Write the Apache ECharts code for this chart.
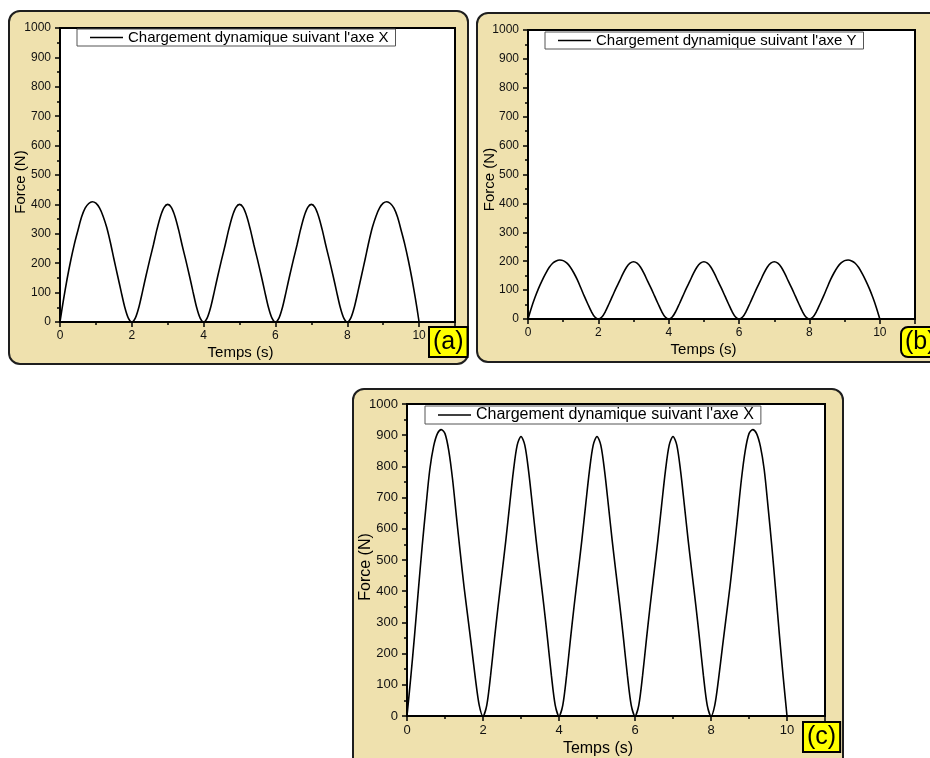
<!DOCTYPE html>
<html lang="fr">
<head>
    <meta charset="UTF-8">
    <script src="https://cdn.jsdelivr.net/npm/echarts@6/dist/echarts.min.js"></script>
    <title>Chargement dynamique</title>
    <style>
        body { margin: 0; width: 930px; height: 758px; overflow: hidden; background: #fff; position: relative; }
        .cadre { position: absolute; background: #efe1ae; border: 2px solid #1e1e1e; border-radius: 12px; box-sizing: border-box; }
        #main { position: absolute; left: 0; top: 0; width: 930px; height: 758px; }
    </style>
</head>
<body>
<!-- les trois cadres beiges -->
<div class="cadre" style="left:8px;top:10px;width:461px;height:355px;"></div>
<div class="cadre" style="left:476px;top:12px;width:474px;height:351px;"></div>
<div class="cadre" style="left:352px;top:388px;width:492px;height:390px;"></div>
<div id="main"></div>
<script type="text/javascript">

    // temps (s)
    var temps = [0, 0.1, 0.2, 0.3, 0.4, 0.5, 0.6, 0.7, 0.8, 0.9,
        1, 1.1, 1.2, 1.3, 1.4, 1.5, 1.6, 1.7, 1.8, 1.9,
        2, 2.1, 2.2, 2.3, 2.4, 2.5, 2.6, 2.7, 2.8, 2.9,
        3, 3.1, 3.2, 3.3, 3.4, 3.5, 3.6, 3.7, 3.8, 3.9,
        4, 4.1, 4.2, 4.3, 4.4, 4.5, 4.6, 4.7, 4.8, 4.9,
        5, 5.1, 5.2, 5.3, 5.4, 5.5, 5.6, 5.7, 5.8, 5.9,
        6, 6.1, 6.2, 6.3, 6.4, 6.5, 6.6, 6.7, 6.8, 6.9,
        7, 7.1, 7.2, 7.3, 7.4, 7.5, 7.6, 7.7, 7.8, 7.9,
        8, 8.1, 8.2, 8.3, 8.4, 8.5, 8.6, 8.7, 8.8, 8.9,
        9, 9.1, 9.2, 9.3, 9.4, 9.5, 9.6, 9.7, 9.8, 9.9, 10];

    // (a) force suivant X (N)
    var forceA = [0, 78, 148, 210, 265, 312, 357, 387, 403, 409,
        404, 388, 360, 322, 272, 215, 160, 105, 52, 14,
        0, 14, 52, 105, 160, 212, 262, 315, 360, 390,
        400, 390, 360, 315, 262, 212, 160, 105, 52, 14,
        0, 14, 52, 105, 160, 212, 262, 315, 360, 390,
        400, 390, 360, 315, 262, 212, 160, 105, 52, 14,
        0, 14, 52, 105, 160, 212, 262, 315, 360, 390,
        400, 390, 360, 315, 262, 212, 160, 105, 52, 14,
        0, 14, 52, 105, 160, 215, 272, 322, 360, 388,
        404, 409, 403, 387, 357, 312, 265, 210, 148, 78, 0];

    // (b) force suivant Y (N)
    var forceB = [0, 40, 75, 106, 133, 157, 178, 193, 201, 204,
        202, 194, 180, 160, 136, 108, 79, 52, 26, 7,
        0, 7, 26, 52, 79, 106, 131, 157, 179, 193,
        198, 193, 179, 157, 131, 106, 79, 52, 26, 7,
        0, 7, 26, 52, 79, 106, 131, 157, 179, 193,
        198, 193, 179, 157, 131, 106, 79, 52, 26, 7,
        0, 7, 26, 52, 79, 106, 131, 157, 179, 193,
        198, 193, 179, 157, 131, 106, 79, 52, 26, 7,
        0, 7, 26, 52, 79, 108, 136, 160, 180, 194,
        202, 204, 201, 193, 178, 157, 133, 106, 75, 40, 0];

    // (c) force suivant X (N)
    var forceC = [0, 125, 260, 405, 545, 672, 790, 864, 905, 918,
        905, 850, 758, 640, 525, 415, 318, 220, 120, 35,
        0, 35, 130, 245, 355, 458, 562, 675, 785, 868,
        896, 868, 785, 675, 562, 458, 355, 245, 130, 35,
        0, 35, 130, 245, 355, 458, 562, 675, 785, 868,
        896, 868, 785, 675, 562, 458, 355, 245, 130, 35,
        0, 35, 130, 245, 355, 458, 562, 675, 785, 868,
        896, 868, 785, 675, 562, 458, 355, 245, 130, 35,
        0, 35, 120, 220, 318, 415, 525, 640, 758, 850,
        905, 918, 905, 864, 790, 672, 545, 405, 260, 125, 0];

    var nomX = "Chargement dynamique suivant l'axe X";
    var nomY = "Chargement dynamique suivant l'axe Y";
    var police = "'Liberation Sans', Arial, sans-serif";

    function paires(valeurs) {
        return temps.map(function (t, i) { return [t, valeurs[i]]; });
    }

    function axeX(idx, taille, gap, decal) {
        return {
            type: 'value', gridIndex: idx, min: 0, max: 11, interval: 2,
            name: 'Temps (s)', nameLocation: 'middle', nameGap: gap, nameMoveOverlap: false,
            nameTextStyle: { fontSize: taille, color: '#000', padding: [0, decal, 0, 0] },
            axisLine: { onZero: false, lineStyle: { color: '#000', width: 2 } },
            axisTick: { length: 5, lineStyle: { color: '#000', width: 1.5 } },
            minorTick: { show: true, splitNumber: 2, length: 3, lineStyle: { color: '#000', width: 1.5 } },
            axisLabel: { fontSize: taille - 3, color: '#111', margin: 8, showMaxLabel: false },
            splitLine: { show: false }
        };
    }

    function axeY(idx, taille, gap, decal) {
        return {
            type: 'value', gridIndex: idx, min: 0, max: 1000, interval: 100,
            name: 'Force (N)', nameLocation: 'middle', nameGap: gap, nameMoveOverlap: false,
            nameTextStyle: { fontSize: taille, color: '#000', padding: [0, decal, 0, 0] },
            axisLine: { onZero: false, lineStyle: { color: '#000', width: 2 } },
            axisTick: { length: 5, lineStyle: { color: '#000', width: 1.5 } },
            minorTick: { show: true, splitNumber: 2, length: 3, lineStyle: { color: '#000', width: 1.5 } },
            axisLabel: { fontSize: taille - 3, color: '#111', margin: 9, formatter: function (v) { return String(v); } },
            splitLine: { show: false }
        };
    }

    function legende(gauche, haut, taille, nom) {
        return {
            left: gauche, top: haut, orient: 'horizontal', selectedMode: false,
            padding: [1, 7, 1, 13], itemWidth: 33, itemHeight: 1.5, icon: 'rect',
            backgroundColor: '#fff', borderColor: '#555', borderWidth: 1, borderRadius: 0,
            textStyle: { fontSize: taille, color: '#000', fontFamily: police },
            data: [{ name: nom, itemStyle: { color: '#000' } }]
        };
    }

    function etiquette(gauche, haut, texte, rayon) {
        return {
            type: 'text', left: gauche, top: haut, z: 100,
            style: {
                text: texte, font: '25px ' + police, fill: '#000',
                backgroundColor: '#ffff00', borderColor: '#000', borderWidth: 2,
                borderRadius: rayon, padding: [2, 3, 1, 3]
            }
        };
    }

    function serie(idx, nom, valeurs) {
        return {
            type: 'line', name: nom, xAxisIndex: idx, yAxisIndex: idx,
            data: paires(valeurs), showSymbol: false, symbol: 'none', smooth: 0.3,
            lineStyle: { color: '#000', width: 1.6 }, itemStyle: { color: '#000' }
        };
    }

    var myChart = echarts.init(document.getElementById('main'));

    var option = {
        animation: false,
        backgroundColor: 'transparent',
        textStyle: { fontFamily: police },
        grid: [
            { left: 60, top: 28, width: 395, height: 294, show: true, backgroundColor: '#fff', borderColor: '#000', borderWidth: 2 },
            { left: 528, top: 30, width: 387, height: 289, show: true, backgroundColor: '#fff', borderColor: '#000', borderWidth: 2 },
            { left: 407, top: 404, width: 418, height: 313, show: true, backgroundColor: '#fff', borderColor: '#000', borderWidth: 2 }
        ],
        xAxis: [axeX(0, 15, 23, 34), axeX(1, 15, 23, 36), axeX(2, 16, 25, 36)],
        yAxis: [axeY(0, 15, 32, 14), axeY(1, 15, 31, 10), axeY(2, 16, 33, 14)],
        legend: [
            legende(77, 29, 15, nomX),
            legende(545, 32, 15, nomY),
            legende(425, 406, 16, nomX)
        ],
        graphic: [
            etiquette(428, 326, '(a)', 0),
            etiquette(900, 326, '(b)', 6),
            etiquette(802, 721, '(c)', 0)
        ],
        series: [
            serie(0, nomX, forceA),
            serie(1, nomY, forceB),
            serie(2, nomX, forceC)
        ]
    };

    myChart.setOption(option);

</script>
</body>
</html>
